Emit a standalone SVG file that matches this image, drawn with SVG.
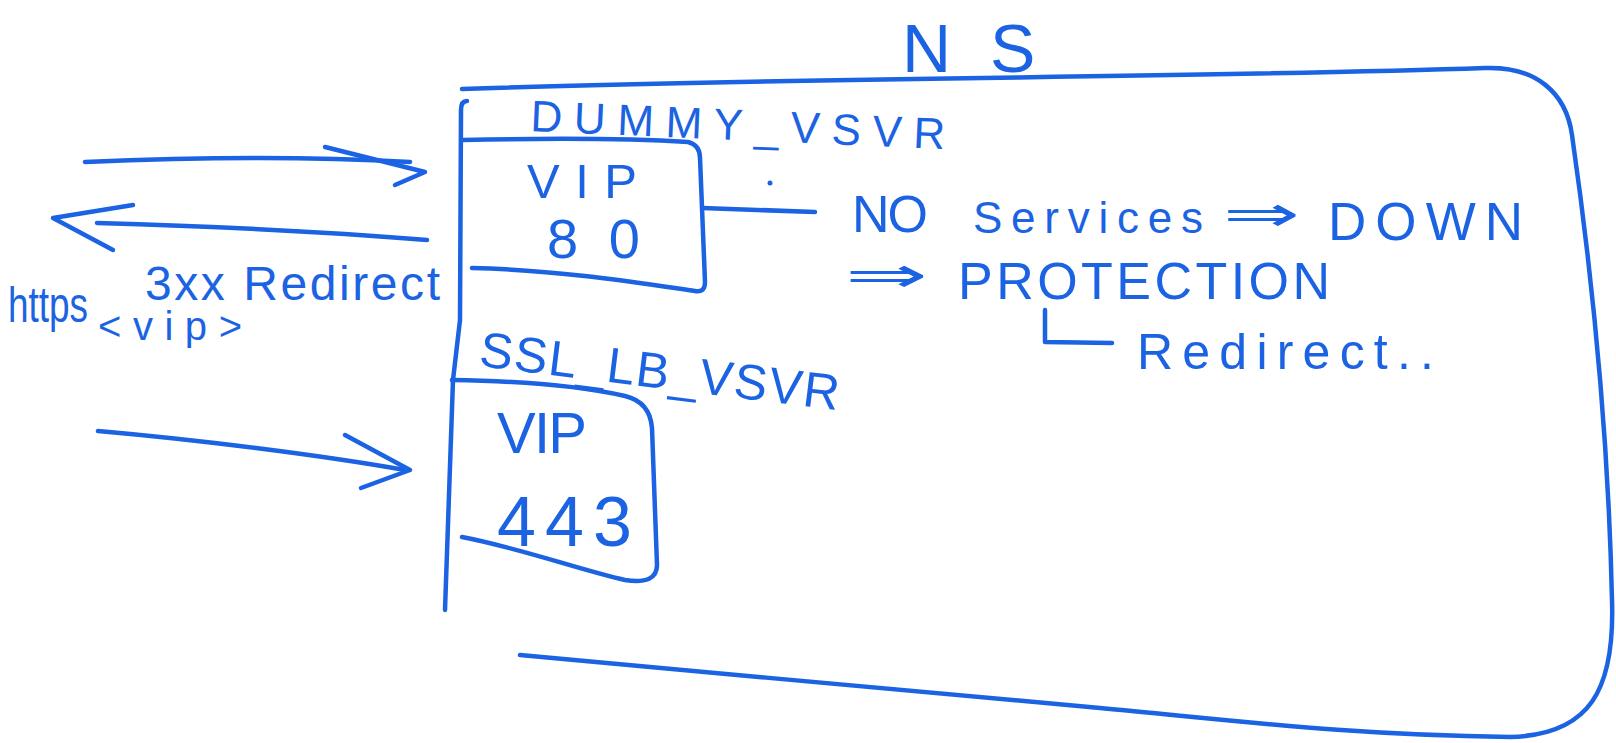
<svg xmlns="http://www.w3.org/2000/svg" width="1616" height="743" viewBox="0 0 1616 743">
<style>
.ink{fill:none;stroke:#1b63e3;stroke-width:4.5;stroke-linecap:round;stroke-linejoin:round}
.t{fill:#1b63e3;font-family:"Liberation Sans","DejaVu Sans",sans-serif}
.sym{fill:#1b63e3;font-family:"DejaVu Sans",sans-serif}
</style>
<rect width="1616" height="743" fill="#ffffff"/>
<g id="ns-box">
<text class="t" font-size="68"><tspan x="902" y="72">N</tspan><tspan x="990" y="72">S</tspan></text>
<path class="ink" d="M462,89 C800,77 1200,78 1485,68 C1535,66 1566,92 1572,135 C1590,260 1608,420 1612,600 C1615,690 1590,735 1510,737 C1350,735 1250,722 1100,708 S700,672 520,655"/>
<path class="ink" d="M467,101 Q461,101 461,110 L460,320 L453,380 L445,610"/>
</g>
<g id="dummy-vsvr">
<text class="t" font-size="44" x="530" y="131" textLength="415" transform="rotate(2.5 530 131)">DUMMY_VSVR</text>
</g>
<g id="vip80">
<path class="ink" d="M463,140 C550,138 640,139 688,142 Q700,145 700,158 L705,282 Q705,293 695,291 C640,283 560,270 472,268"/>
<text class="t" font-size="49" x="527" y="198" textLength="110">VIP</text>
<text class="t" font-size="56" x="547" y="258" textLength="93">80</text>
</g>
<g id="ssl-lb-vsvr">
<text class="t" font-size="50" x="478" y="366" textLength="362" transform="rotate(7 478 366)">SSL_LB_VSVR</text>
</g>
<g id="vip443">
<path class="ink" d="M462,537 C520,548 580,570 625,580 Q657,585 657,565 L652,428 Q650,402 625,396 C580,386 520,381 452,380"/>
<text class="t" font-size="58" x="497" y="453" textLength="90">VIP</text>
<text class="t" font-size="70" x="497" y="546" textLength="135">443</text>
</g>
<g id="status-note">
<text class="t" font-size="52" x="852" y="232" textLength="76">NO</text>
<text class="t" font-size="44" x="973" y="233" textLength="230">Services</text>
<text class="sym" font-size="50" x="1223" y="231" textLength="77" lengthAdjust="spacingAndGlyphs">⇒</text>
<text class="t" font-size="53" x="1328" y="240" textLength="195">DOWN</text>
<text class="sym" font-size="50" x="845" y="292" textLength="83" lengthAdjust="spacingAndGlyphs">⇒</text>
<text class="t" font-size="52" x="958" y="299" textLength="372">PROTECTION</text>
<text class="t" font-size="50" x="1137" y="369" textLength="297">Redirect..</text>
</g>
<g id="client-labels">
<text class="t" font-size="48" x="145" y="300" textLength="295">3xx Redirect</text>
<text class="t" font-size="50" x="8" y="322" textLength="80" lengthAdjust="spacingAndGlyphs">https</text>
<text class="t" font-size="40" x="98" y="340" textLength="144">&lt;vip&gt;</text>
</g>
<g id="connectors">
<path class="ink" d="M85,162 C200,157 300,156 410,162"/>
<path class="ink" d="M325,147 L425,172 L395,185"/>
<path class="ink" d="M427,240 C330,232 200,226 97,223"/>
<path class="ink" d="M133,205 L53,218 L113,250"/>
<path class="ink" d="M98,431 C200,440 320,455 405,470"/>
<path class="ink" d="M345,435 L410,470 L361,488"/>
<path class="ink" d="M702,208 L815,212"/>
<path class="ink" d="M1045,310 L1045,342 L1112,343"/>
<circle cx="770" cy="183" r="2.5" fill="#1b63e3"/>
</g>
</svg>
